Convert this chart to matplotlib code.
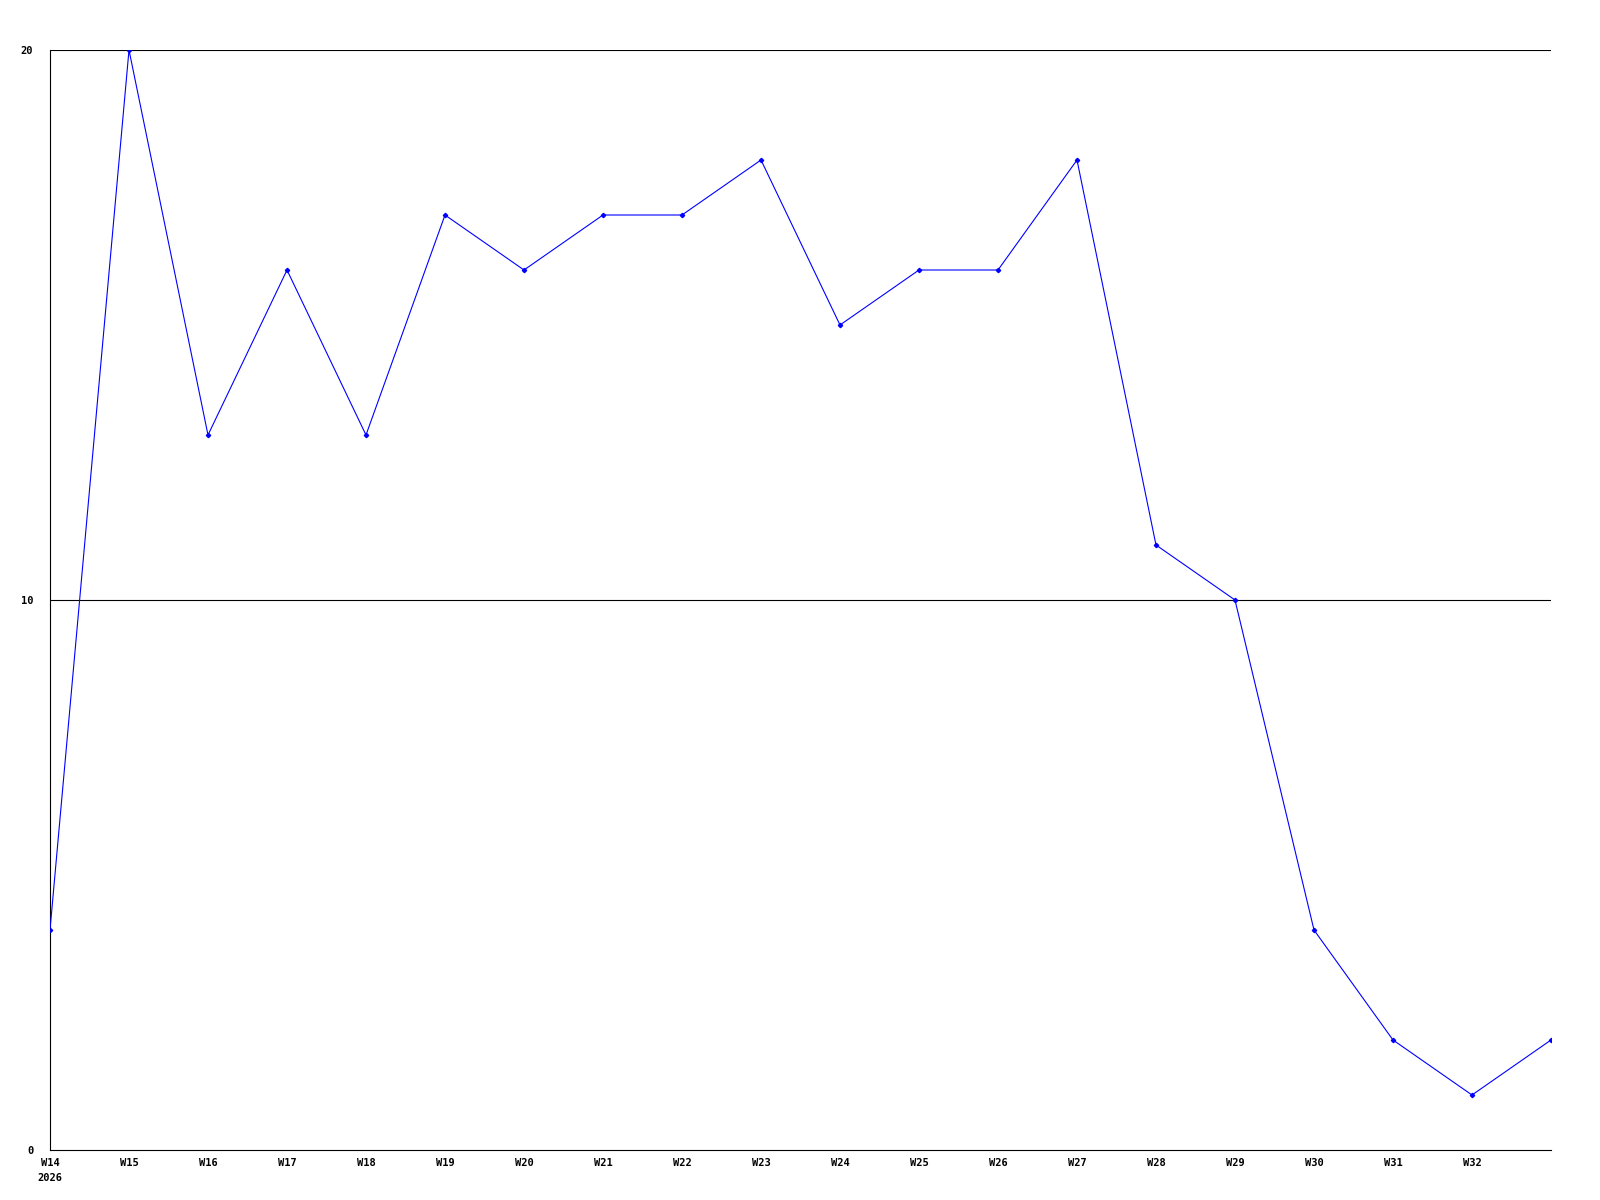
import numpy as np
import matplotlib
matplotlib.use("Agg")
import matplotlib.pyplot as plt

weeks = ["W14", "W15", "W16", "W17", "W18", "W19", "W20", "W21", "W22", "W23",
         "W24", "W25", "W26", "W27", "W28", "W29", "W30", "W31", "W32", "W33"]
values = [4, 20, 13, 16, 13, 17, 16, 17, 17, 18, 15, 16, 16, 18, 11, 10, 4, 2, 1, 2]
year = "2026"

x = np.arange(len(weeks))

fig = plt.figure(figsize=(16, 12), dpi=100)
ax = fig.add_axes([50/1600, 50/1200, 1501/1600, 1100/1200])

ax.plot(x, values, color="#0000ff", lw=0.8, marker="D", ms=2.2, zorder=3)

ax.set_xlim(0, len(weeks) - 1)
ax.set_ylim(0, 20)

for yv in [10, 20]:
    ax.axhline(yv, color="black", lw=0.8, zorder=2)

for s in ["top", "right"]:
    ax.spines[s].set_visible(False)
for s in ["left", "bottom"]:
    ax.spines[s].set_linewidth(0.8)

font = dict(family="DejaVu Sans Mono", weight="bold", size=7.5)
ax.set_yticks([0, 10, 20])
ax.set_yticklabels(["0", "10", "20"], **font)
labels = weeks[:-1]
ax.set_xticks(x[:-1])
ax.set_xticklabels([labels[0] + "\n" + year] + labels[1:], **font, linespacing=1.6)
for t in ax.get_xticklabels():
    t.set_verticalalignment("top")
ax.tick_params(length=0, pad=6)
ax.tick_params(axis="y", pad=12)

fig.savefig("out.png", dpi=100)
